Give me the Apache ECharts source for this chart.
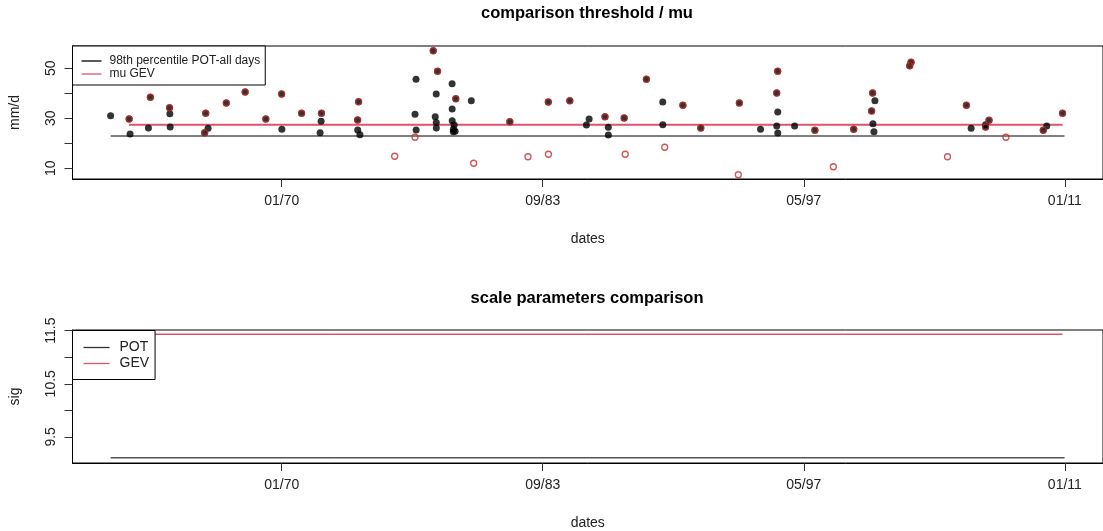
<!DOCTYPE html>
<html><head><meta charset="utf-8">
<script src="https://cdn.jsdelivr.net/npm/echarts@6/dist/echarts.min.js"></script>
<style>html,body{margin:0;padding:0;background:#fff}#c{width:1103px;height:531px}</style>
</head><body><div id="c"></div><script>
// ---- data ----
const xTickDates = ['1970-01-01','1983-09-09','1997-05-19','2011-01-26'];
const yTicksMu = [10,20,30,40,50];
const yLabelsMu = [10,30,50];
const yTicksSig = [9.5,10,10.5,11,11.5];
const yLabelsSig = [9.5,10.5,11.5];

// POT exceedances (black dots)
const potDates = ['1961-01-10','1961-12-31','1962-01-18','1963-01-04','1963-02-11','1964-02-13','1964-02-19','1964-02-25',
 '1965-12-17','1966-01-06','1966-02-20','1967-02-04','1968-01-31','1969-03-02','1969-12-30','1970-01-03','1971-01-16',
 '1972-01-06','1972-01-25','1972-02-01','1973-12-24','1973-12-26','1974-01-12','1974-02-07','1976-12-28','1977-01-16',
 '1977-01-18','1977-12-12','1978-01-19','1978-02-07','1978-02-08','1978-02-09','1978-03-04','1978-12-08','1978-12-09',
 '1978-12-10','1978-12-31','1979-01-02','1979-01-16','1979-02-04','1979-02-17','1979-12-11','1981-12-18','1983-12-25',
 '1985-02-09','1985-12-24','1986-02-14','1986-12-15','1987-02-16','1987-02-17','1987-12-17','1989-02-15','1989-12-25',
 '1989-12-26','1991-01-15','1991-12-24','1993-12-31','1995-02-10','1995-12-17','1995-12-18','1996-01-05','1996-01-06',
 '1996-01-07','1996-11-24','1997-12-17','1999-12-31','2000-12-08','2000-12-27','2001-01-02','2001-01-21','2001-02-09',
 '2002-12-08','2003-01-02','2005-11-28','2006-02-26','2006-11-30','2006-12-01','2007-02-04','2009-12-09','2010-02-13',
 '2010-12-13'];
const potValues = [31.0,29.7,23.7,26.1,38.4,34.2,31.8,26.5,
 24.2,32.0,26.0,36.1,40.5,29.7,39.7,25.6,32.0,
 24.2,28.8,32.0,29.3,25.3,36.6,23.4,31.6,45.6,
 25.3,57.0,30.6,39.7,28.3,26.1,48.8,43.8,33.7,
 29.0,24.6,25.6,27.3,24.8,37.8,37.0,28.6,36.5,
 37.0,27.3,29.7,30.6,26.4,23.3,30.1,45.6,36.5,
 27.4,35.2,26.1,36.1,25.6,40.1,26.9,48.8,32.5,
 24.1,26.9,25.2,25.6,32.9,40.1,27.8,24.6,37.0,
 51.0,52.4,35.2,26.0,26.5,27.4,29.2,25.2,26.9,
 32.0];

// block maxima (red open circles)
const amaxDates = ['1961-12-31','1963-02-11','1964-02-13','1965-12-17','1966-01-06','1967-02-04','1968-01-31','1969-03-02',
 '1969-12-30','1971-01-16','1972-02-01','1973-12-24','1974-01-12','1975-12-04','1976-12-28','1977-12-12','1978-03-04',
 '1979-02-17','1980-01-26','1981-12-18','1982-12-01','1983-12-25','1983-12-27','1985-02-09','1986-12-15','1987-12-17',
 '1988-01-06','1989-02-15','1990-02-01','1991-01-15','1991-12-24','1993-12-12','1993-12-31','1995-12-17','1996-01-05',
 '1997-12-17','1998-12-06','1999-12-31','2000-12-08','2000-12-27','2002-12-08','2003-01-02','2004-12-01','2005-11-28',
 '2006-11-30','2007-02-04','2007-12-24','2009-12-09','2010-12-13'];
const amaxValues = [29.7,38.4,34.2,24.2,32.0,36.1,40.5,29.7,
 39.7,32.0,32.0,29.3,36.6,14.8,22.4,57.0,48.8,
 37.8,12.0,28.6,14.6,36.5,15.6,37.0,30.6,30.1,
 15.6,45.6,18.4,35.2,26.1,7.4,36.1,40.1,48.8,
 25.2,10.6,25.6,32.9,40.1,51.0,52.4,14.6,35.2,
 26.5,29.2,22.4,25.2,32.0];

// horizontal reference levels
const thresholdDates = ['1961-01-10','2011-01-20'];
const thresholdValue = 22.9;
const muDates = ['1961-12-31','2010-12-13'];
const muValue = 27.44;
const sigPotDates = ['1961-01-10','2011-01-20'];
const sigPotValue = 9.105;
const sigGevDates = ['1961-12-31','2010-12-13'];
const sigGevValue = 11.433;

// ---- helpers ----
const toDay = s => Date.parse(s + 'T00:00:00Z') / 86400000;
const pad = n => (n < 10 ? '0' : '') + n;
const fmtDay = v => { const d = new Date(Math.round(v) * 86400000); return pad(d.getUTCMonth() + 1) + '/' + pad(d.getUTCFullYear() % 100); };
const xTicks = xTickDates.map(toDay);
const pairs = (ds, vs) => ds.map((d, i) => [toDay(d), vs[i]]);
const flat = (ds, v) => ds.map(d => [toDay(d), v]);

const FONT = 'Liberation Sans, Arial, sans-serif';
const RED = '#DF536B';

function xAxisFor(gi) {
  return {
    type: 'value', gridIndex: gi, min: -4008, max: 15731,
    axisLine: { show: true, onZero: false, lineStyle: { color: '#000', width: 1 } },
    axisTick: { show: true, customValues: xTicks, length: 8, lineStyle: { color: '#333' } },
    axisLabel: { customValues: xTicks, formatter: fmtDay, margin: 15, fontSize: 14, color: '#222', fontFamily: FONT },
    splitLine: { show: false },
    name: 'dates', nameLocation: 'middle', nameGap: 53,
    nameTextStyle: { fontSize: 14, color: '#222', fontFamily: FONT }
  };
}
function yAxisFor(gi, min, max, ticks, labels, name) {
  return {
    type: 'value', gridIndex: gi, min: min, max: max,
    axisLine: { show: true, onZero: false, lineStyle: { color: '#000', width: 1 } },
    axisTick: { show: true, customValues: ticks, length: 8, lineStyle: { color: '#333' } },
    axisLabel: { customValues: labels, rotate: 90, margin: 14, fontSize: 14, color: '#222', fontFamily: FONT },
    splitLine: { show: false },
    name: name, nameLocation: 'middle', nameGap: 50, nameRotate: 90,
    nameTextStyle: { fontSize: 14, color: '#222', fontFamily: FONT }
  };
}

const chart = echarts.init(document.getElementById('c'), null, { renderer: 'canvas' });
chart.setOption({
  animation: false,
  backgroundColor: '#fff',
  graphic: [
    { type: 'text', x: 587, y: 13, style: { text: 'comparison threshold / mu', font: 'bold 16.5px ' + FONT, fill: '#000', textAlign: 'center', textVerticalAlign: 'middle' } },
    { type: 'text', x: 587, y: 298, style: { text: 'scale parameters comparison', font: 'bold 16.5px ' + FONT, fill: '#000', textAlign: 'center', textVerticalAlign: 'middle' } }
  ],
  grid: [
    { left: 72.5, top: 46, width: 1036, height: 133, show: true, borderColor: '#000', borderWidth: 1, backgroundColor: 'transparent' },
    { left: 72.5, top: 330, width: 1036, height: 133, show: true, borderColor: '#000', borderWidth: 1, backgroundColor: 'transparent' }
  ],
  xAxis: [xAxisFor(0), xAxisFor(1)],
  yAxis: [
    yAxisFor(0, 5.7, 58.9, yTicksMu, yLabelsMu, 'mm/d'),
    yAxisFor(1, 9.007, 11.513, yTicksSig, yLabelsSig, 'sig')
  ],
  legend: [
    { data: ['98th percentile POT-all days', 'mu GEV'], orient: 'vertical', left: 72.5, top: 46,
      icon: 'rect', itemWidth: 20, itemHeight: 1.3, itemGap: 1,
      padding: [9, 5, 5, 9], borderColor: '#000', borderWidth: 1, backgroundColor: '#fff', borderRadius: 0,
      textStyle: { fontSize: 12, color: '#222', fontFamily: FONT, padding: [0, 0, 0, 3], lineHeight: 12 }, selectedMode: false },
    { data: ['POT', 'GEV'], orient: 'vertical', left: 72.5, top: 330.5,
      icon: 'rect', itemWidth: 26, itemHeight: 1.3, itemGap: 2,
      padding: [10, 6, 9, 11], borderColor: '#000', borderWidth: 1, backgroundColor: '#fff', borderRadius: 0,
      textStyle: { fontSize: 14, color: '#222', fontFamily: FONT, padding: [0, 0, 0, 5], lineHeight: 14 }, selectedMode: false }
  ],
  series: [
    { type: 'line', name: '98th percentile POT-all days', xAxisIndex: 0, yAxisIndex: 0, data: flat(thresholdDates, thresholdValue),
      showSymbol: false, symbol: 'none', color: '#000', itemStyle: { color: '#000' }, lineStyle: { color: '#000', width: 1 }, z: 1 },
    { type: 'line', name: 'mu GEV', xAxisIndex: 0, yAxisIndex: 0, data: flat(muDates, muValue),
      showSymbol: false, symbol: 'none', color: RED, itemStyle: { color: RED }, lineStyle: { color: RED, width: 2 }, z: 1 },
    { type: 'scatter', name: 'POT events', xAxisIndex: 0, yAxisIndex: 0, data: pairs(potDates, potValues),
      symbol: 'circle', symbolSize: 7, itemStyle: { color: '#000' }, z: 3 },
    { type: 'scatter', name: 'block maxima', xAxisIndex: 0, yAxisIndex: 0, data: pairs(amaxDates, amaxValues),
      symbol: 'circle', symbolSize: 6, itemStyle: { color: 'rgba(0,0,0,0)', borderColor: '#c42a2a', borderWidth: 1.3 }, z: 4 },
    { type: 'line', name: 'POT', xAxisIndex: 1, yAxisIndex: 1, data: flat(sigPotDates, sigPotValue),
      showSymbol: false, symbol: 'none', color: '#333', itemStyle: { color: '#333' }, lineStyle: { color: '#555', width: 1.6 }, z: 1 },
    { type: 'line', name: 'GEV', xAxisIndex: 1, yAxisIndex: 1, data: flat(sigGevDates, sigGevValue),
      showSymbol: false, symbol: 'none', color: RED, itemStyle: { color: RED }, lineStyle: { color: RED, width: 1.6 }, z: 1 }
  ]
});
</script></body></html>
